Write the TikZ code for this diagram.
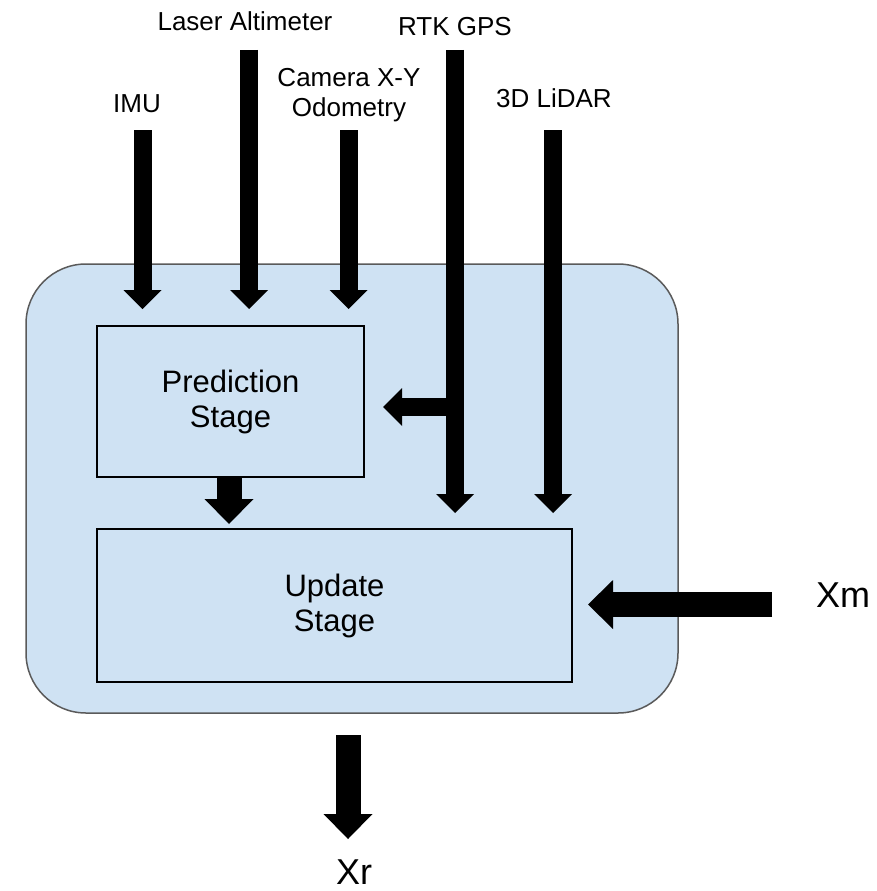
\documentclass[tikz,border=0pt]{standalone}
\usepackage{fontspec}
\setmainfont{Liberation Sans}
\usetikzlibrary{arrows.meta}
\definecolor{boxblue}{HTML}{CFE2F3}
\definecolor{rimgray}{HTML}{5A5A5A}
\begin{document}
\begin{tikzpicture}[x=1pt,y=-1pt,
  lbl/.style={font=\fontsize{26}{30}\selectfont, align=center, inner sep=0pt},
  biglbl/.style={font=\fontsize{36}{40}\selectfont, inner sep=0pt},
  stagebox/.style={draw=black, line width=1.8pt, fill=boxblue, inner sep=0pt,
    font=\fontsize{31}{35}\selectfont, align=center},
  thinarrow/.style={line width=18pt, -{Triangle[width=38pt,length=19pt,line width=0pt]}},
  thickarrow/.style={line width=25pt, -{Triangle[width=49pt,length=25pt,line width=0pt]}}]
\useasboundingbox (0,0) rectangle (876,891);
\fill[white] (0,0) rectangle (876,891);
% outer container
\node[draw=rimgray, line width=1.5pt, fill=boxblue, rounded corners=60pt,
  minimum width=652pt, minimum height=449pt, inner sep=0pt] (outer) at (352,488.5) {};
% stages
\node[stagebox, minimum width=267pt, minimum height=151pt] (pred) at (230.5,401.5) {Prediction\\Stage};
\node[stagebox, minimum width=475pt, minimum height=153pt] (upd) at (334.5,605.5) {Update\\Stage};
% labels
\node[lbl, anchor=base] (imu) at (137,112) {IMU};
\node[lbl, anchor=base] (laser) at (245,31) {Laser Altimeter};
\node[lbl] (cam) at (349,95) {Camera X-Y\\Odometry};
\node[lbl, anchor=base] (rtk) at (455,36) {RTK GPS};
\node[lbl, anchor=base] (lidar) at (554,107) {3D LiDAR};
\node[biglbl, anchor=base] (xm) at (843,607) {Xm};
\node[biglbl, anchor=base] (xr) at (354,884) {Xr};
% arrow end points
\coordinate (imuS) at (142.5,130);  \coordinate (imuE) at (142.5,309);
\coordinate (lasS) at (249,50);     \coordinate (lasE) at (249,309);
\coordinate (camS) at (348.5,130);  \coordinate (camE) at (348.5,309);
\coordinate (rtkS) at (455,50);     \coordinate (rtkE) at (455,513);
\coordinate (rtkB) at (455,407);    \coordinate (rtkP) at (383,407);
\coordinate (lidS) at (553,130);    \coordinate (lidE) at (553,513);
\coordinate (pruE) at (229,524);
\coordinate (xmS) at (772,604.5);   \coordinate (xmE) at (588,604.5);
\coordinate (xrS) at (348,735);     \coordinate (xrE) at (348,839);
% arrows
\draw[thinarrow] (imuS) -- (imuE);
\draw[thinarrow] (lasS) -- (lasE);
\draw[thinarrow] (camS) -- (camE);
\draw[thinarrow] (rtkS) -- (rtkE);
\draw[thinarrow] (rtkB) -- (rtkP);
\draw[thinarrow] (lidS) -- (lidE);
\draw[thickarrow] (pred.south -| pruE) -- (pruE);
\draw[thickarrow] (xmS) -- (xmE);
\draw[thickarrow] (xrS) -- (xrE);
\end{tikzpicture}
\end{document}
